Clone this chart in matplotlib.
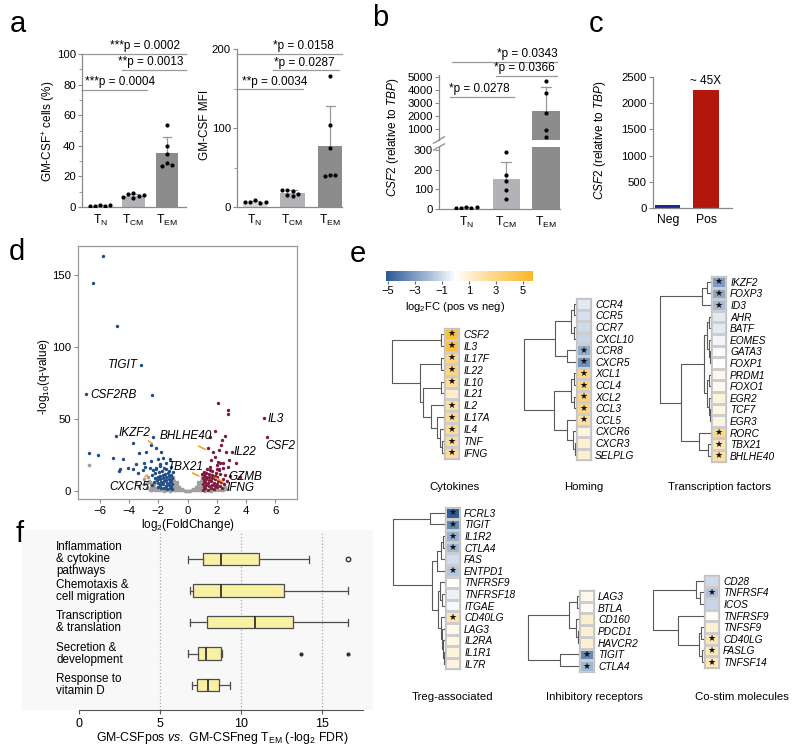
import matplotlib
matplotlib.use('Agg')
import matplotlib.pyplot as plt
import matplotlib.transforms as mtransforms
import numpy as np
from matplotlib.cm import ScalarMappable
from matplotlib.colors import LinearSegmentedColormap, Normalize

plt.rcParams['font.family'] = ['Liberation Sans', 'DejaVu Sans']
plt.rcParams['mathtext.fontset'] = 'custom'
plt.rcParams['mathtext.rm'] = 'Liberation Sans'
plt.rcParams['mathtext.it'] = 'Liberation Sans:italic'
plt.rcParams['mathtext.bf'] = 'Liberation Sans:bold'
plt.rcParams['font.size'] = 8

# ---------------- data ----------------
subsets = [r'T$_{\rm N}$', r'T$_{\rm CM}$', r'T$_{\rm EM}$']
a_pct = [[1.5, 0.5, 0.4, 0.6, 1.0], [9.0, 8.5, 7.0, 6.0, 6.5, 8.0], [53.5, 40.0, 34.5, 28.5, 26.8, 27.6]]
a_mfi = [[9, 6, 5, 6, 6], [14, 15, 17, 20, 22, 21], [166, 104, 75, 40, 39, 40]]
b_csf2 = [[10, 5, 3, 3, 8], [290, 175, 140, 95, 50], [4690, 3770, 2230, 920, 380]]
subset_colors = ['#d9d9d9', '#b3b3b7', '#8c8c8c']

c_groups = ['Neg', 'Pos']
c_vals = [48, 2250]
c_colors = ['#1c2a8e', '#b3160b']

# volcano: significant down (blue), up (red), not significant (grey)
d_down = [(-5.8, 163.7), (-6.5, 145), (-4.84, 115), (-3.17, 87.7), (-6.94, 67.5), (-2.42, 66.8),
          (-4.88, 38.3), (-2.36, 37.8), (-3.7, 33.2), (-6.78, 26.7), (-6.14, 24.8), (-5.11, 22.7),
          (-4.43, 22.3), (-4.64, 15.1), (-3.73, 15.0), (-3.29, 26.2), (-2.83, 27.4), (-2.49, 32.0),
          (-2.14, 29.7), (-1.8, 27.4), (-1.69, 22.7), (-2.03, 21.9), (-2.49, 20.9), (-2.95, 19.7),
          (-3.52, 18.6), (-4.09, 16.2), (-4.66, 13.9), (-3.06, 14.6), (-2.6, 16.2), (-2.15, 15.1),
          (-1.58, 16.2), (-1.46, 19.7), (-1.23, 22.0), (-1.9, 18.6), (-3.39, 12.3), (-2.92, 16.9),
          (-1.05, 1.5), (-1.1, 3.0), (-1.05, 5.0), (-1.1, 7.0), (-1.05, 9.0), (-1.1, 11.0),
          (-1.2, 2.0), (-1.25, 4.2), (-1.2, 6.3), (-1.3, 8.4), (-1.25, 10.5), (-1.35, 12.5),
          (-1.4, 1.2), (-1.45, 3.5), (-1.4, 5.6), (-1.5, 7.6), (-1.45, 9.8), (-1.55, 12.0),
          (-1.6, 2.4), (-1.65, 4.6), (-1.6, 6.8), (-1.7, 9.0), (-1.65, 11.2), (-1.75, 14.0),
          (-1.8, 1.8), (-1.85, 4.0), (-1.8, 6.0), (-1.9, 8.2), (-1.85, 10.4), (-1.95, 13.0),
          (-2.0, 3.0), (-2.05, 5.5), (-2.1, 7.8), (-2.05, 10.0), (-2.2, 12.5), (-2.3, 6.0),
          (-2.25, 9.0), (-2.4, 4.0), (-2.45, 11.0), (-2.15, 16.0), (-1.5, 15.5), (-1.3, 14.0),
          (-1.9, 17.5), (-2.35, 14.5), (-1.15, 16.5), (-1.0, 13.0)]
d_up = [(5.27, 50.6), (5.46, 37.4), (2.08, 61.5), (2.76, 56.4), (2.8, 53.6), (2.38, 35.5),
        (1.85, 41.5), (2.6, 38.3), (3.06, 27.4), (1.55, 37.8), (2.31, 32.0), (1.74, 27.4),
        (2.65, 27.4), (3.33, 19.3), (2.87, 21.5), (2.26, 19.3), (1.64, 21.5), (2.0, 15.3),
        (2.44, 16.0), (1.85, 23.7), (2.88, 10.4), (3.6, 9.5), (1.39, 29.7), (2.17, 28.6),
        (2.42, 19.3), (2.76, 17.0), (1.51, 14.6), (2.19, 14.6), (2.08, 20.4),
        (1.05, 1.0), (1.1, 3.0), (1.05, 5.0), (1.1, 7.0), (1.05, 9.0), (1.1, 11.0),
        (1.2, 2.0), (1.25, 4.0), (1.2, 6.0), (1.3, 8.0), (1.25, 10.0), (1.3, 12.5),
        (1.4, 1.0), (1.45, 3.2), (1.4, 5.4), (1.5, 7.5), (1.45, 9.6), (1.5, 11.8),
        (1.6, 2.2), (1.65, 4.4), (1.6, 6.6), (1.7, 8.8), (1.65, 11.0), (1.7, 14.0),
        (1.8, 1.5), (1.85, 3.6), (1.8, 5.8), (1.9, 8.0), (1.85, 10.2), (1.95, 12.6),
        (2.0, 2.5), (2.05, 4.8), (2.1, 7.0), (2.0, 9.4), (2.2, 11.5), (2.25, 3.5),
        (2.3, 6.0), (2.4, 8.5), (2.35, 2.0), (2.5, 5.0), (2.15, 15.5), (1.55, 16.5),
        (2.6, 11.0), (2.7, 7.0), (1.35, 15.0), (2.0, 18.0), (1.15, 13.5), (1.0, 12.0)]
d_ns = [(-2.6, 1.0), (-2.5, 3.0), (-2.4, 1.5), (-2.3, 2.5), (-2.2, 1.0), (-2.1, 2.0), (-2.5, 5.0),
        (-2.3, 4.5), (-2.2, 6.5), (-2.0, 1.0), (-1.9, 0.5), (-1.7, 0.8), (-1.5, 0.5), (-1.3, 0.7),
        (-1.1, 0.4), (-0.95, 1.0), (-0.95, 3.0), (-0.95, 5.0), (-0.95, 7.0), (-0.9, 2.0), (-0.9, 4.0),
        (-0.9, 6.0), (-0.85, 1.0), (-0.85, 3.5), (-0.8, 5.5), (-0.8, 2.0), (-0.75, 4.0), (-0.7, 1.0),
        (-0.7, 3.0), (-0.65, 2.0), (-0.6, 1.0), (-0.55, 2.5), (-0.5, 1.5), (-0.45, 0.6), (-0.4, 1.2),
        (-0.3, 0.5), (-0.2, 0.3), (-0.1, 0.2), (0.0, 0.1), (0.1, 0.2), (0.2, 0.3), (0.3, 0.5),
        (0.4, 1.2), (0.45, 0.6), (0.5, 1.5), (0.55, 2.5), (0.6, 1.0), (0.65, 2.0), (0.7, 3.0),
        (0.7, 1.0), (0.75, 4.0), (0.8, 2.0), (0.8, 5.5), (0.85, 3.5), (0.85, 1.0), (0.9, 6.0),
        (0.9, 4.0), (0.9, 2.0), (0.95, 7.0), (0.95, 5.0), (0.95, 3.0), (0.95, 1.0), (1.1, 0.4),
        (1.3, 0.7), (1.5, 0.5), (1.7, 0.8), (1.9, 0.5), (2.1, 1.0), (2.3, 0.8), (2.5, 1.5),
        (-6.72, 18.1), (-3.0, 8.0), (-2.8, 5.5), (-3.3, 3.5), (-2.7, 9.5), (-3.5, 6.0),
        (-1.0, 8.5), (-0.98, 9.5), (1.0, 8.5), (0.98, 9.5), (-2.65, 7.0), (2.6, 3.0),
        (-2.8, 2.0), (-3.0, 4.5), (-2.55, 6.0), (-1.2, 0.3), (-1.6, 0.2), (-2.45, 0.5),
        (1.2, 0.3), (1.6, 0.2), (2.4, 0.4), (2.7, 1.2), (-0.75, 6.5), (0.75, 6.5)]
d_labels = [('TIGIT', -4.45, 87.7, 'center'), ('CSF2RB', -5.1, 67.0, 'center'),
            ('IKZF2', -3.6, 40.0, 'center'), ('BHLHE40', -0.1, 38.3, 'center'),
            ('IL3', 5.5, 50.0, 'left'), ('CSF2', 5.3, 31.0, 'left'), ('IL22', 3.15, 27.0, 'left'),
            ('TBX21', -0.1, 16.5, 'center'), ('GZMB', 2.83, 10.0, 'left'),
            ('IFNG', 2.7, 2.0, 'left'), ('CXCR5', -4.0, 3.0, 'center')]
d_arrows = [((-2.83, 36.0), (-2.26, 31.8)), ((0.6, 32.0), (1.39, 28.1)),
            ((0.18, 13.4), (0.94, 9.5)), ((2.6, 5.5), (1.75, 10.0)), ((-3.06, 8.8), (-2.6, 12.3))]

# heatmaps (log2FC pos vs neg, star = significant)
cyto_genes = ['CSF2', 'IL3', 'IL17F', 'IL22', 'IL10', 'IL21', 'IL2', 'IL17A', 'IL4', 'TNF', 'IFNG']
cyto_fc = [5.0, 4.9, 2.8, 3.0, 2.3, 1.2, 2.2, 2.5, 2.5, 2.3, 2.5]
cyto_sig = [1, 1, 1, 1, 1, 0, 1, 1, 1, 1, 1]
homing_genes = ['CCR4', 'CCR5', 'CCR7', 'CXCL10', 'CCR8', 'CXCR5', 'XCL1', 'CCL4', 'XCL2', 'CCL3',
                'CCL5', 'CXCR6', 'CXCR3', 'SELPLG']
homing_fc = [-0.6, -0.9, -1.1, -1.2, -2.5, -3.3, 2.9, 2.9, 3.0, 2.8, 2.1, 0.7, 1.0, 1.1]
homing_sig = [0, 0, 0, 0, 1, 1, 1, 1, 1, 1, 1, 0, 0, 0]
tf_genes = ['IKZF2', 'FOXP3', 'ID3', 'AHR', 'BATF', 'EOMES', 'GATA3', 'FOXP1', 'PRDM1', 'FOXO1',
            'EGR2', 'TCF7', 'EGR3', 'RORC', 'TBX21', 'BHLHE40']
tf_fc = [-3.0, -2.6, -2.0, -0.6, -0.6, -0.3, -0.1, 0.0, 0.4, 0.3, 0.8, 0.6, 0.7, 2.6, 1.7, 2.2]
tf_sig = [1, 1, 1, 0, 0, 0, 0, 0, 0, 0, 0, 0, 0, 1, 1, 1]
treg_genes = ['FCRL3', 'TIGIT', 'IL1R2', 'CTLA4', 'FAS', 'ENTPD1', 'TNFRSF9', 'TNFRSF18', 'ITGAE',
              'CD40LG', 'LAG3', 'IL2RA', 'IL1R1', 'IL7R']
treg_fc = [-5.0, -3.6, -2.3, -2.1, -1.0, -1.6, 0.1, -0.4, -0.2, 1.8, 0.5, 0.6, 0.8, 0.8]
treg_sig = [1, 1, 1, 1, 0, 1, 0, 0, 0, 1, 0, 0, 0, 0]
inhib_genes = ['LAG3', 'BTLA', 'CD160', 'PDCD1', 'HAVCR2', 'TIGIT', 'CTLA4']
inhib_fc = [0.5, 0.3, 1.2, 1.0, 1.1, -3.6, -2.1]
inhib_sig = [0, 0, 0, 0, 0, 1, 1]
costim_genes = ['CD28', 'TNFRSF4', 'ICOS', 'TNFRSF9', 'TNFSF9', 'CD40LG', 'FASLG', 'TNFSF14']
costim_fc = [-1.1, -1.8, -1.2, 0.1, 1.0, 1.8, 1.5, 1.6]
costim_sig = [0, 1, 0, 0, 0, 1, 1, 1]

# dendrograms: [left, right, height in px], leaves are row indices
cyto_tree = [[0, 1, 3], [[2, 3, 3], [[4, 5, 3], [6, [7, [8, [9, 10, 2], 4], 7], 13], 21], 24], 52]
homing_tree = [[[[0, 1, 2], [2, 3, 2], 5], [4, 5, 9], 21],
               [[[6, 7, 2], [8, 9, 2], 5], [10, [11, [12, 13, 1], 3], 9], 22], 52]
tf_tree = [[[0, 1, 4], 2, 9],
           [[[[3, 4, 2], [5, [6, 7, 1], 2], 4], [[8, 9, 2], [10, [11, 12, 1], 2], 4], 7],
            [13, [14, 15, 3], 12], 30], 51]
treg_tree = [[0, 1, 15], [[[[2, 3, 2], 4, 4], 5, 8],
                          [[6, [7, 8, 3], 5], [9, [10, [11, [12, 13, 1], 2], 3], 4], 7], 13], 52]
inhib_tree = [[[0, 1, 2], [2, [3, 4, 1], 3], 10], [5, 6, 19], 51]
costim_tree = [[0, [1, 2, 4], 8], [3, [[4, 5, 3], [6, 7, 2], 5], 26], 51]

# panel f: pathway enrichment boxplots
f_labels = ['Inflammation\n& cytokine\npathways', 'Chemotaxis &\ncell migration',
            'Transcription\n& translation', 'Secretion &\ndevelopment', 'Response to\nvitamin D']
f_whislo = [6.72, 6.82, 6.82, 6.72, 6.99]
f_q1 = [7.64, 7.03, 7.89, 7.36, 7.27]
f_med = [8.77, 8.77, 10.83, 7.85, 7.95]
f_q3 = [11.09, 12.61, 13.19, 8.73, 8.63]
f_whishi = [14.17, 16.57, 16.57, 8.84, 9.29]
f_fliers = [[16.57], [], [], [13.71, 16.57], []]

# ---------------- layout helpers ----------------
W, H = 800, 754
fig = plt.figure(figsize=(8, 7.54), dpi=100)


def box(x0, y0, x1, y1):
    return fig.add_axes([x0 / W, 1 - y1 / H, (x1 - x0) / W, (y1 - y0) / H])


def ftext(x, y, s, **kw):
    return fig.text(x / W, 1 - y / H, s, **kw)


def style(ax, fs=8.2):
    for s in ('top', 'right'):
        ax.spines[s].set_visible(False)
    for s in ('left', 'bottom'):
        ax.spines[s].set_color('#8a8a8a')
        ax.spines[s].set_linewidth(0.9)
    ax.tick_params(axis='y', length=3, width=0.8, color='#8a8a8a', labelsize=fs, pad=1.5)
    ax.tick_params(axis='x', length=0, labelsize=fs + 0.5, pad=4)
    ax.set_facecolor('none')


def swarm(xc, vals, ypx, step, gap=3.8):
    offs = []
    for k, v in enumerate(vals):
        for o in (0, -1, 1, -2, 2, -3, 3):
            if all(abs(v - vals[j]) * ypx > gap or o != offs[j] for j in range(k)):
                break
        offs.append(o)
    return [xc + o * step for o in offs]


def bars(ax, groups, width, ypx, step, cap=0.12, lo=None, hi=None):
    # lo / hi: only draw dots and error bars in this value range (broken axis)
    for i, v in enumerate(groups):
        m = np.mean(v)
        sd = np.std(v, ddof=1)
        ax.bar(i, m, width, color=subset_colors[i], zorder=1)
        if lo is None or m + sd > lo:
            ax.plot([i, i], [m, m + sd], color='#999999', lw=0.9, zorder=2)
            ax.plot([i - cap, i + cap], [m + sd, m + sd], color='#999999', lw=0.9, zorder=2)
        keep = [x for x in v if (lo is None or x > lo) and (hi is None or x <= hi)]
        if keep:
            ax.scatter(swarm(i, keep, ypx, step), keep, s=9, color='black', linewidths=0, zorder=3)


def sig(ax, text, x0, x1, y, tx, ha):
    ax.plot([x0, x1], [y, y], color='#9a9a9a', lw=0.9, clip_on=False)
    ax.annotate(text, (tx, y), xytext=(0, 1.2), textcoords='offset points', ha=ha, va='bottom',
                fontsize=8.5, annotation_clip=False)


# ---------------- panel a ----------------
ax = box(82, 54, 186, 207)
style(ax)
bars(ax, a_pct, 0.66, 1.53, 0.15)
ax.set_xlim(-0.54, 2.57)
ax.set_ylim(0, 100)
ax.set_yticks([0, 20, 40, 60, 80, 100])
ax.set_yticks(np.arange(10, 100, 20), minor=True)
ax.tick_params(axis='y', which='minor', length=2, color='#8a8a8a')
ax.set_xticks(range(3), subsets)
sig(ax, '***p = 0.0002', -0.54, 2.57, 100, 2.39, 'right')
sig(ax, '**p = 0.0013', 0.66, 2.57, 89.5, 2.48, 'right')
sig(ax, '***p = 0.0004', -0.54, 1.40, 76.5, -0.45, 'left')
ftext(49, 131, r'GM-CSF$^{+}$ cells (%)', rotation=90, ha='center', va='center', fontsize=8.5)

ax = box(237, 49, 342, 207)
style(ax)
bars(ax, a_mfi, 0.66, 0.79, 0.14)
ax.set_xlim(-0.48, 2.32)
ax.set_ylim(0, 200)
ax.set_yticks([0, 100, 200])
ax.set_yticks([50, 150], minor=True)
ax.tick_params(axis='y', which='minor', length=2, color='#8a8a8a')
ax.set_xticks(range(3), subsets)
sig(ax, '*p = 0.0158', -0.48, 2.32, 194, 2.11, 'right')
sig(ax, '*p = 0.0287', 0.48, 2.24, 173, 2.13, 'right')
sig(ax, '**p = 0.0034', -0.48, 1.28, 149, -0.35, 'left')
ftext(205, 125, 'GM-CSF MFI', rotation=90, ha='center', va='center', fontsize=8.5)

# ---------------- panel b (broken axis) ----------------
axu = box(439, 75, 560, 140)
axl = box(439, 147, 560, 209)
style(axu)
style(axl)
bars(axu, b_csf2, 0.68, 0.013, 0.13, lo=315)
bars(axl, b_csf2, 0.68, 0.197, 0.13, hi=315)
axu.set_xlim(-0.68, 2.35)
axl.set_xlim(-0.68, 2.35)
axu.set_ylim(150, 5150)
axu.set_yticks([1000, 2000, 3000, 4000, 5000])
axu.spines['bottom'].set_visible(False)
axu.set_xticks([])
axl.set_ylim(0, 315)
axl.set_yticks([0, 100, 200, 300])
axl.set_xticks(range(3), subsets)
for axx, yy in ((axu, 0.0), (axl, 1.0)):
    axx.plot([-0.045, 0.045], [yy - 0.05, yy + 0.05], transform=axx.transAxes, color='#8a8a8a',
             lw=0.9, clip_on=False)
sig(axu, '*p = 0.0343', -0.35, 2.28, 6154, 2.28, 'right')
sig(axu, '*p = 0.0366', 0.75, 2.28, 5077, 2.22, 'right')
sig(axu, '*p = 0.0278', -0.4, 1.2, 3462, -0.43, 'left')
ftext(393, 137, r'$\it{CSF2}$ (relative to $\it{TBP}$)', rotation=90, ha='center', va='center',
      fontsize=8.5)

# ---------------- panel c ----------------
ax = box(653, 77, 732, 208)
style(ax)
ax.bar(range(2), c_vals, 0.66, color=c_colors)
ax.set_xlim(-0.39, 1.68)
ax.set_ylim(0, 2500)
ax.set_yticks(range(0, 2501, 500))
ax.set_xticks(range(2), c_groups)
ax.annotate('~ 45X', (1, c_vals[1]), xytext=(0, 2), textcoords='offset points', ha='center',
            va='bottom', fontsize=8.5)
ftext(600, 140, r'$\it{CSF2}$ (relative to $\it{TBP}$)', rotation=90, ha='center', va='center',
      fontsize=8.5)

# ---------------- panel d (volcano) ----------------
ax = box(78, 246, 297, 499)
for s in ax.spines.values():
    s.set_color('#9a9a9a')
    s.set_linewidth(0.9)
ax.tick_params(length=3, color='#8a8a8a', labelsize=8.2, pad=2)
for pts, col, sz in ((d_ns, '#a0a0a0', 7), (d_down, '#1f4d84', 6), (d_up, '#7e1a3c', 6)):
    px, py = zip(*pts)
    ax.scatter(px, py, s=sz, color=col, linewidths=0)
for txt, x, y, ha in d_labels:
    ax.text(x, y, txt, ha=ha, va='center', style='italic', fontsize=8.5)
for tail, tip in d_arrows:
    ax.annotate('', xy=tip, xytext=tail, arrowprops=dict(arrowstyle='-', color='#f4a21f', lw=1.2))
ax.set_xlim(-7.5, 7.5)
ax.set_ylim(-5.6, 170.5)
ax.set_xticks(range(-6, 7, 2))
ax.set_yticks([0, 50, 100, 150])
ftext(44, 377, r'-log$_{10}$(q-value)', rotation=90, ha='center', va='center', fontsize=8.5)
ftext(188, 525, r'log$_2$(FoldChange)', ha='center', va='center', fontsize=8.5)

# ---------------- panel e (heatmaps) ----------------
vmin, vmax = -5.15, 5.74
z0 = -vmin / (vmax - vmin)
cmap = LinearSegmentedColormap.from_list(
    'fc', [(0.0, '#2a5994'), (0.3, '#a9bfd8'), (z0, '#ffffff'), (0.7, '#fddb93'), (1.0, '#fbb726')])
norm = Normalize(vmin, vmax)

cax = box(386, 271, 533, 281)
cb = fig.colorbar(ScalarMappable(norm=norm, cmap=cmap), cax=cax, orientation='horizontal')
cb.outline.set_visible(False)
cb.set_ticks([-5, -3, -1, 1, 3, 5], labels=['\u22125', '\u22123', '\u22121', '1', '3', '5'])
cax.tick_params(length=2, labelsize=8, pad=1.5, color='#666666')
ftext(455, 307, r'log$_2$FC (pos vs neg)', ha='center', va='center', fontsize=8)


def draw_tree(ax, node):
    if isinstance(node, int):
        return node + 0.5, 0
    l, r, h = node
    yl, hl = draw_tree(ax, l)
    yr, hr = draw_tree(ax, r)
    ax.plot([hl, h, h, hr], [yl, yl, yr, yr], color='#5a5a5a', lw=0.8, solid_capstyle='butt')
    return (yl + yr) / 2, h


groups = [
    (cyto_genes, cyto_fc, cyto_sig, cyto_tree, 444, 328, 11.9, 'Cytokines', 454, 487),
    (homing_genes, homing_fc, homing_sig, homing_tree, 576, 298, 11.6, 'Homing', 584, 487),
    (tf_genes, tf_fc, tf_sig, tf_tree, 711, 276, 11.6, 'Transcription factors', 719, 487),
    (treg_genes, treg_fc, treg_sig, treg_tree, 445, 507, 11.6, 'Treg-associated', 453, 697),
    (inhib_genes, inhib_fc, inhib_sig, inhib_tree, 579, 590, 11.7, 'Inhibitory receptors', 594, 697),
    (costim_genes, costim_fc, costim_sig, costim_tree, 704, 575, 11.6, 'Co-stim molecules', 742, 697),
]
for genes, fc, st, tree, x0, y0, rh, title, tx, ty in groups:
    n = len(genes)
    y1 = y0 + n * rh
    hm = box(x0, y0, x0 + 15, y1)
    hm.pcolormesh(np.array(fc).reshape(-1, 1), cmap=cmap, norm=norm, edgecolors='#cdcdcd',
                  linewidth=0.8)
    hm.set_xlim(0, 1)
    hm.set_ylim(n, 0)
    for s in hm.spines.values():
        s.set_color('#c2c2c2')
        s.set_linewidth(0.9)
    hm.set_xticks([])
    hm.yaxis.tick_right()
    hm.set_yticks(np.arange(n) + 0.5, genes, style='italic', fontsize=7.3)
    hm.tick_params(axis='y', length=0, pad=3)
    for i, flag in enumerate(st):
        if flag:
            hm.text(0.5, i + 0.5, '\u2605', ha='center', va='center', fontsize=6.5, color='#111111')
    dn = box(x0 - 55, y0, x0, y1)
    draw_tree(dn, tree)
    dn.set_xlim(55, 0)
    dn.set_ylim(n, 0)
    dn.axis('off')
    ftext(tx, ty, title, ha='center', va='center', fontsize=8.2)

# ---------------- panel f (boxplots) ----------------
bg = box(22, 530, 373, 710)
bg.set_facecolor('#f8f8f8')
bg.set_xticks([])
bg.set_yticks([])
for s in bg.spines.values():
    s.set_visible(False)
ax = box(79, 533, 363, 710)
ax.set_facecolor('none')
stats = [dict(whislo=f_whislo[i], q1=f_q1[i], med=f_med[i], q3=f_q3[i], whishi=f_whishi[i],
              fliers=f_fliers[i]) for i in range(len(f_labels))]
pos = np.arange(1, len(f_labels) + 1)
bp = ax.bxp(stats, positions=pos, widths=0.4, orientation='horizontal', patch_artist=True,
            boxprops=dict(facecolor='#f8f0a2', edgecolor='#4d4d4d', lw=0.9),
            medianprops=dict(color='#333333', lw=1.3),
            whiskerprops=dict(color='#4d4d4d', lw=0.9),
            capprops=dict(color='#4d4d4d', lw=0.9), capwidths=0.22,
            flierprops=dict(marker='o', markersize=2, markerfacecolor='#333333',
                            markeredgecolor='#333333'))
bp['fliers'][0].set_markerfacecolor('none')
bp['fliers'][0].set_markersize(3.2)
ax.set_ylim(5.79, 0.17)
ax.set_xlim(0, 17.5)
ax.set_xticks([0, 5, 10, 15])
ax.set_yticks([])
for xv in (5, 10, 15):
    ax.axvline(xv, color='#aaaaaa', ls=':', lw=0.9, zorder=0)
for s in ('top', 'right', 'left'):
    ax.spines[s].set_visible(False)
ax.spines['bottom'].set_color('#555555')
ax.tick_params(axis='x', length=3, color='#555555', labelsize=9, pad=3)
trans = mtransforms.blended_transform_factory(fig.transFigure, ax.transData)
for p, lab in zip(pos, f_labels):
    ax.text(56 / W, p, lab, transform=trans, ha='left', va='center', fontsize=8.4,
            linespacing=1.0)
ftext(222, 738, r'GM-CSFpos $\it{vs.}$ GM-CSFneg T$_{\rm EM}$ (-log$_2$ FDR)', ha='center',
      va='center', fontsize=8.8)

# ---------------- panel letters ----------------
for letter, x, y in (('a', 18, 24), ('b', 380, 18), ('c', 596, 24), ('d', 17, 252),
                     ('e', 358, 254), ('f', 20, 534)):
    ftext(x, y, letter, ha='center', va='center', fontsize=21)

fig.savefig('out.png', dpi=100)
